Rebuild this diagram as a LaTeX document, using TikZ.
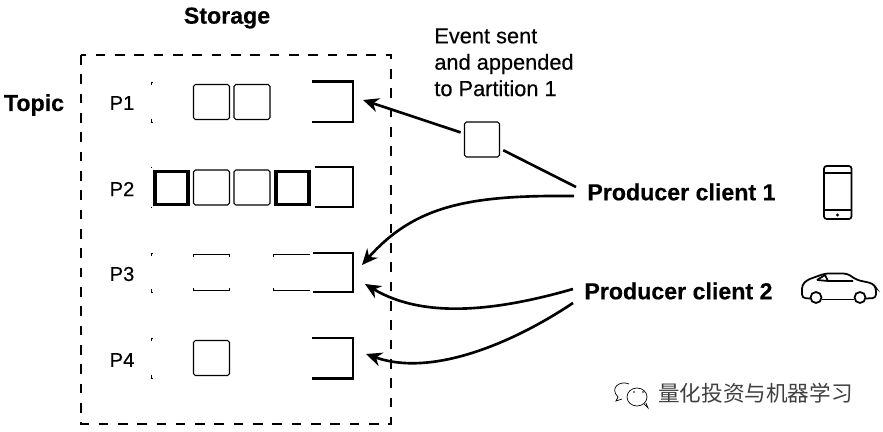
\documentclass[tikz,border=0pt]{standalone}
\usepackage{fontspec}
\setmainfont{Liberation Sans}
\newfontfamily\cjkfont{Noto Sans CJK SC}
\newfontfamily\medfont[FakeBold=0.35]{Liberation Sans}
\newfontfamily\heavyfont[FakeBold=0.3]{Liberation Sans Bold}
\usetikzlibrary{arrows.meta}
\tikzset{
  slot/.style={draw,line width=0.6pt,rounded corners=1pt,minimum width=0.72cm,minimum height=0.7cm,inner sep=0pt},
  slotopen/.style={minimum width=0.72cm,minimum height=0.7cm,inner sep=0pt},
  slotfull/.style={draw,line width=2.1pt,minimum width=0.66cm,minimum height=0.66cm,inner sep=0pt},
  bucket/.style={line width=1.3pt},
  edge/.style={line width=0.7pt},
  tick/.style={line width=0.5pt},
  feed/.style={line width=1.5pt},
  feedtip/.style={feed,-{Stealth[length=9pt,width=8pt]}},
  plabel/.style={font=\fontsize{11.5}{13}\medfont,inner sep=0pt},
  blabel/.style={font=\fontsize{13.2}{15}\heavyfont,inner sep=0pt},
  icon/.style={line width=1pt}
}
\begin{document}
\begin{tikzpicture}[x=0.02cm,y=-0.02cm]
\useasboundingbox (0,0) rectangle (883,432);
\draw [line width=1.3pt,dash pattern=on 5.5pt off 5.5pt] (81,55) rectangle (391,424);
\node [blabel] (storage) at (227,18) {Storage};
\node [blabel] (topic) at (34,105) {Topic};
\node [plabel] (p1) at (122,103) {P1};
\node [plabel] (p2) at (122,189) {P2};
\node [plabel] (p3) at (122,274) {P3};
\node [plabel] (p4) at (122,360) {P4};
\node [slot] (p1b) at (211.5,102) {};
\node [slot] (p1c) at (252,102) {};
\node [slotfull] (p2a) at (171.5,188) {};
\node [slot] (p2b) at (211.5,187.5) {};
\node [slot] (p2c) at (252,187.5) {};
\node [slotfull] (p2d) at (292.5,188) {};
\node [slotopen] (p3b) at (211.5,272.5) {};
\node [slotopen] (p3d) at (292,272.5) {};
\node [slot] (p4b) at (211.5,358) {};
\draw [edge] ([yshift=-0.05cm]p3b.north west) -- (p3b.north west) -- (p3b.north east) -- ([yshift=-0.05cm]p3b.north east);
\draw [edge] ([yshift=0.05cm]p3b.south west) -- (p3b.south west) -- (p3b.south east) -- ([yshift=0.05cm]p3b.south east);
\draw [edge] ([yshift=-0.05cm]p3d.north west) -- (p3d.north west) -- (p3d.north east);
\draw [edge] ([yshift=0.05cm]p3d.south west) -- (p3d.south west) -- (p3d.south east);
\draw [bucket] (312,81.5) -- (353,81.5) -- (353,122) -- (312,122);
\draw [bucket] (315,167) -- (353,167) -- (353,207) -- (315,207);
\draw [bucket] (313,253) -- (353,253) -- (353,292) -- (313,292);
\draw [bucket] (312,338) -- (353,338) -- (353,378.5) -- (312,378.5);
\draw [tick] (151,85) -- (151,82) -- (153,82);
\draw [tick] (151,119) -- (151,122) -- (153,122);
\draw [tick] (151,168) -- (151,167);
\draw [tick] (151,207) -- (151,208);
\draw [tick] (151,256) -- (151,253) -- (153,253);
\draw [tick] (151,289) -- (151,292) -- (153,292);
\draw [tick] (151,341) -- (151,338) -- (153,338);
\draw [tick] (151,375) -- (151,378) -- (153,378);
\node [plabel,font=\fontsize{12.4}{15}\medfont,align=left,anchor=north west] (sent) at (434,28) {Event sent\\and appended\\to Partition 1};
\node [slot,minimum width=0.7cm,minimum height=0.7cm] (event) at (482,139.5) {};
\node [blabel,anchor=west] (client1) at (587,192) {Producer client 1};
\node [blabel,anchor=west] (client2) at (584,291) {Producer client 2};
\coordinate (p1in) at (363,100);
\coordinate (p3top) at (362,265);
\coordinate (p3low) at (365,284);
\coordinate (p4in) at (366,354);
\coordinate (c1top) at (576,187);
\coordinate (c1low) at (574,196);
\coordinate (c2top) at (573,289);
\coordinate (c2low) at (573,303);
\draw [feed,shorten >=2pt] (c1top) -- (event);
\draw [feedtip,shorten <=2pt] (event) -- (p1in);
\draw [feedtip] (c1low) .. controls (470,195) and (415,205) .. (p3top);
\draw [feedtip] (c2top) .. controls (500,310) and (425,320) .. (p3low);
\draw [feedtip] (c2low) .. controls (510,345) and (430,377) .. (p4in);
\draw [icon,rounded corners=1.5pt] (824,166) rectangle (851.5,219);
\draw [icon] (824,173) -- (851.5,173);
\draw [icon] (824,210) -- (851.5,210);
\fill (837.5,215) circle (1.6);
\draw [icon,rounded corners=2pt] (810,298.5) -- (802,298) -- (802,285) -- (807,280) -- (825,273.5) -- (847,273.5) -- (857,280) -- (873,283.5) -- (876,288) -- (876,298) -- (866,298.5);
\draw [icon] (822,299.5) -- (854,299.5);
\draw [icon] (816,297.5) circle (5.5);
\draw [icon] (860,297.5) circle (5.5);
\draw [icon] (817,280) -- (825,275) -- (828,281) -- (853,281);
\draw [icon] (817,280) -- (828,281);
\draw [line width=0.4pt] (629,384) .. controls (620,380) and (609,388) .. (618,397) -- (616,401) -- (622,399);
\draw [line width=0.4pt] (637,397) ellipse (10 and 9);
\draw [line width=0.4pt] (644,404) -- (648,408) -- (646,403);
\fill (634,392) circle (0.8);
\fill (643,392) circle (0.8);
\node [inner sep=0pt,text=black!75,font=\fontsize{12.3}{14}\cjkfont] (mark) at (755.5,393) {量化投资与机器学习};
\end{tikzpicture}
\end{document}
